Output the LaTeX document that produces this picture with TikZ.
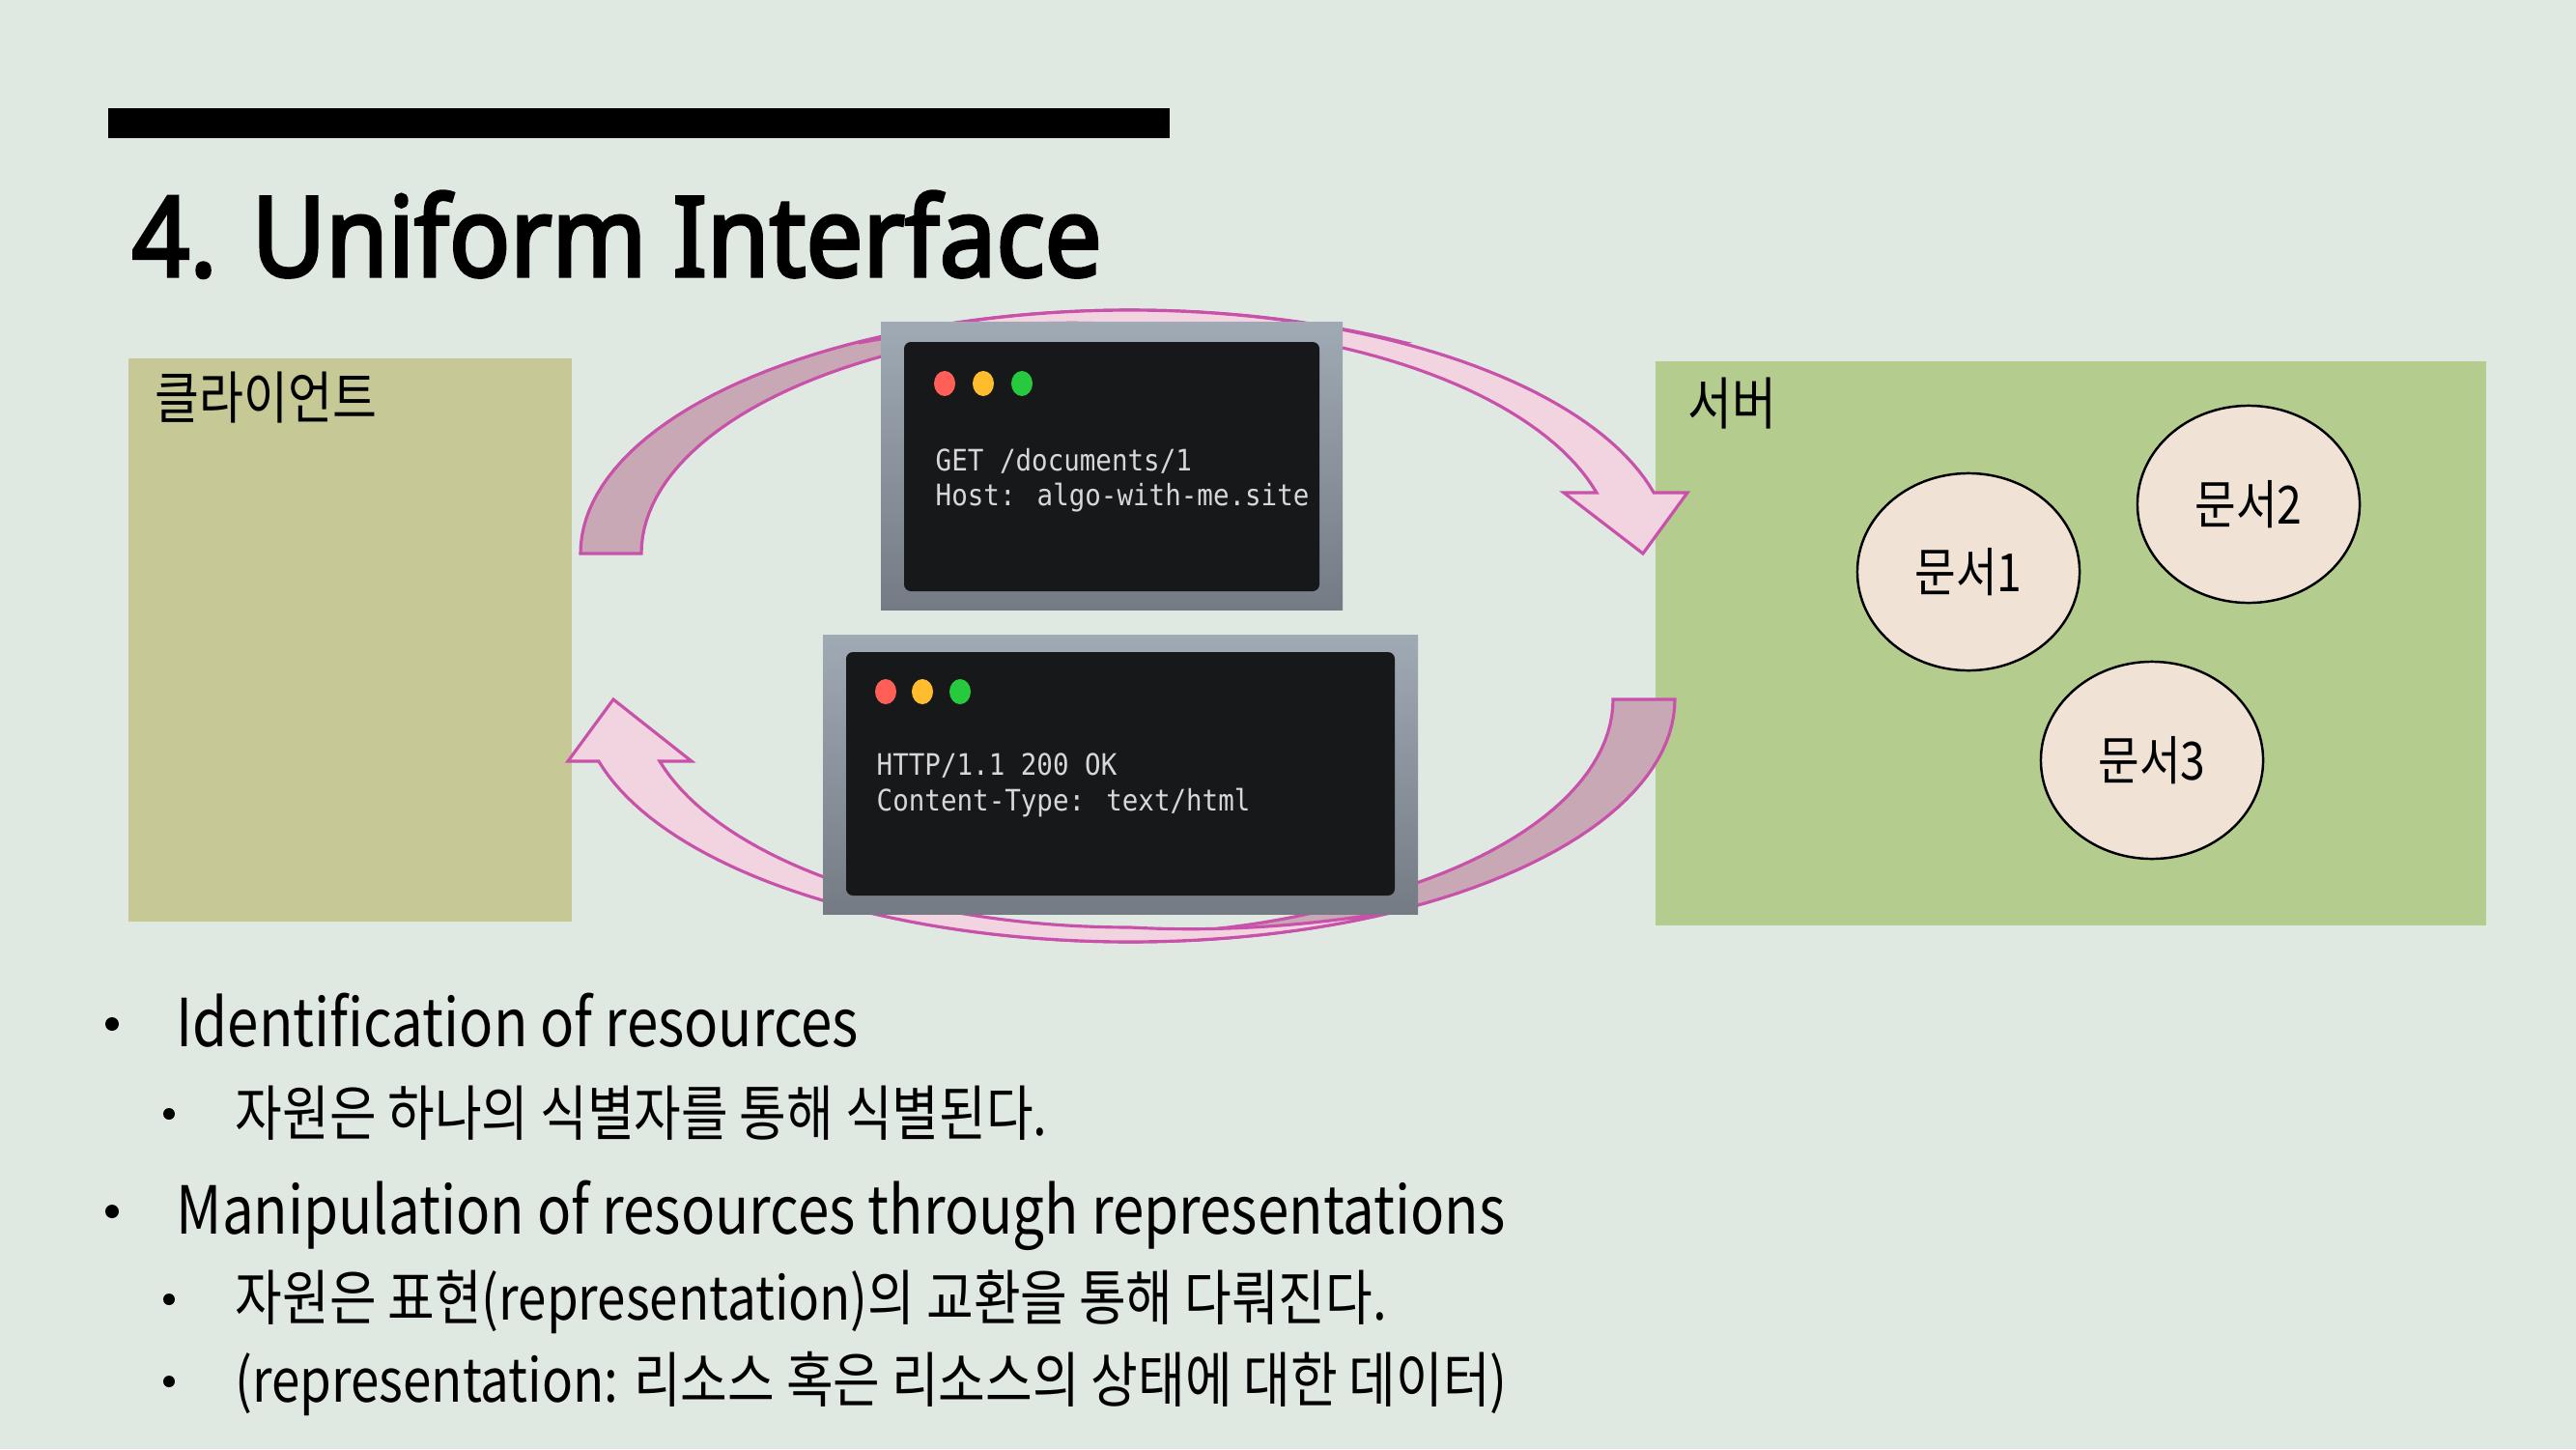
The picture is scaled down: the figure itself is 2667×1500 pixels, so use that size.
\documentclass[tikz,border=0pt]{standalone}
\usepackage{fontspec}
\setmainfont{Noto Sans CJK KR}[FakeStretch=0.85]
\newfontfamily\titlefont{Noto Sans}[FakeStretch=0.91,FakeBold=3]
\newfontfamily\termfont{DejaVu Sans Mono}[FakeStretch=0.9]
\usetikzlibrary{shapes.geometric}
\definecolor{bgc}{RGB}{224,233,225}
\definecolor{clientc}{RGB}{198,200,150}
\definecolor{serverc}{RGB}{180,205,143}
\definecolor{docc}{RGB}{240,227,214}
\definecolor{arrline}{RGB}{200,82,170}
\definecolor{backc}{RGB}{200,168,180}
\definecolor{frontc}{RGB}{242,212,224}
\definecolor{termc}{RGB}{23,24,26}
\definecolor{frametop}{RGB}{160,170,180}
\definecolor{framebot}{RGB}{116,123,133}
\definecolor{dotr}{RGB}{255,95,86}
\definecolor{doty}{RGB}{255,189,46}
\definecolor{dotg}{RGB}{39,201,63}
\definecolor{termtext}{RGB}{215,215,215}
\begin{document}
\begin{tikzpicture}[x=0.01cm,y=-0.01cm,
  backband/.style={fill=backc,draw=arrline,line width=0.9pt,line join=miter},
  frontband/.style={fill=frontc,draw=arrline,line width=0.9pt,line join=miter},
  frameouter/.style={top color=frametop,bottom color=framebot,draw=none},
  terminner/.style={fill=termc,rounded corners=2pt},
  termtxt/.style={font=\termfont\fontsize{8.7}{10}\selectfont,text=termtext,inner sep=0,anchor=base west},
  boxlbl/.style={font=\fontsize{16.7}{19}\selectfont,inner sep=0,anchor=base west},
  docnode/.style={ellipse,draw=black,line width=0.7pt,fill=docc,minimum width=2.3cm,minimum height=2.04cm,inner sep=0,font=\fontsize{15.5}{18}\selectfont},
  lvlone/.style={font=\fontsize{19.5}{23}\selectfont,inner sep=0,anchor=base west},
  lvltwo/.style={font=\fontsize{17.7}{20}\selectfont,inner sep=0,anchor=base west}
]
\fill[bgc] (0,0) rectangle (2667,1500);
\useasboundingbox (0,0) rectangle (2667,1500);

% title bar and title
\fill[black] (112,112) rectangle (1211,143);
\node[font=\titlefont\fontsize{32.7}{38}\selectfont,inner sep=0,anchor=base west] (title) at (136,286) {4. Uniform Interface};

% client and server boxes
\fill[clientc] (133,371) rectangle (592,954);
\node[boxlbl] (clientlbl) at (160,433) {클라이언트};
\fill[serverc] (1714,374) rectangle (2574,958);
\node[boxlbl] (serverlbl) at (1747,439) {서버};

\node[docnode] (doc1) at (2038,592) {문서1};
\node[docnode] (doc2) at (2328,522) {문서2};
\node[docnode] (doc3) at (2228,787) {문서3};

% top curved arrow (request): back part, then front part with arrowhead
\filldraw[backband] plot[domain=180:60,samples=60] ({1170+569*cos(\x)},{573-252*sin(\x)})
  -- plot[domain=60:120,samples=30] ({1170+(569-63*(\x-60)/60)*cos(\x)},{573-(252-15*(\x-60)/60)*sin(\x)})
  -- plot[domain=120:180,samples=30] ({1170+506*cos(\x)},{573-237*sin(\x)}) -- cycle;
\filldraw[frontband] plot[domain=120:14.48,samples=60] ({1170+560*cos(\x)},{573-252*sin(\x)})
  -- (1747,510) -- (1701,573) -- (1619,510)
  -- plot[domain=15.4:90,samples=40] ({1170+501*cos(\x)},{573-237*sin(\x)})
  -- plot[domain=90:120,samples=20] ({1170+(501+59*(\x-90)/30)*cos(\x)},{573-(237+15*(\x-90)/30)*sin(\x)}) -- cycle;

% bottom curved arrow (response)
\filldraw[backband] plot[domain=0:-120,samples=60] ({1170+564*cos(\x)},{724-251*sin(\x)})
  -- plot[domain=-120:-60,samples=30] ({1170+(564-64*(\x+120)/60)*cos(\x)},{724-(251-15*(\x+120)/60)*sin(\x)})
  -- plot[domain=-60:0,samples=30] ({1170+500*cos(\x)},{724-236*sin(\x)}) -- cycle;
\filldraw[frontband] plot[domain=-60:-165.23,samples=60] ({1170+569*cos(\x)},{724-251*sin(\x)})
  -- (588,788) -- (635,724) -- (716,788)
  -- plot[domain=-164.27:-90,samples=40] ({1170+506*cos(\x)},{724-236*sin(\x)})
  -- plot[domain=-90:-60,samples=20] ({1170+(506+63*(\x+90)/30)*cos(\x)},{724-(236+15*(\x+90)/30)*sin(\x)}) -- cycle;

% request terminal
\shade[frameouter] (912,333) rectangle (1390,631);
\fill[terminner] (936,354) rectangle (1366,612);
\fill[dotr] (978,397) ellipse [x radius=11,y radius=13];
\fill[doty] (1018,397) ellipse [x radius=11,y radius=13];
\fill[dotg] (1058,397) ellipse [x radius=11,y radius=13];
\node[termtxt] (req1) at (968,487) {GET /documents/1};
\node[termtxt] (req2) at (968,523) {Host: algo-with-me.site};

% response terminal
\shade[frameouter] (852,657) rectangle (1468,946);
\fill[terminner] (876,675) rectangle (1444,927);
\fill[dotr] (917,716) ellipse [x radius=11,y radius=13];
\fill[doty] (955,716) ellipse [x radius=11,y radius=13];
\fill[dotg] (994,716) ellipse [x radius=11,y radius=13];
\node[termtxt] (res1) at (907,802) {HTTP/1.1 200 OK};
\node[termtxt] (res2) at (907,839) {Content-Type: text/html};

% bullets
\fill (116,1060) circle [radius=7];
\node[lvlone] (b1) at (182,1083) {Identification of resources};
\fill (175,1153) circle [radius=6];
\node[lvltwo] (b1a) at (243,1175) {자원은 하나의 식별자를 통해 식별된다.};
\fill (116,1254) circle [radius=7];
\node[lvlone] (b2) at (182,1277) {Manipulation of resources through representations};
\fill (175,1345) circle [radius=6];
\node[lvltwo] (b2a) at (243,1366) {자원은 표현(representation)의 교환을 통해 다뤄진다.};
\fill (175,1430) circle [radius=6];
\node[lvltwo] (b2b) at (243,1451) {(representation: 리소스 혹은 리소스의 상태에 대한 데이터)};
\end{tikzpicture}
\end{document}
